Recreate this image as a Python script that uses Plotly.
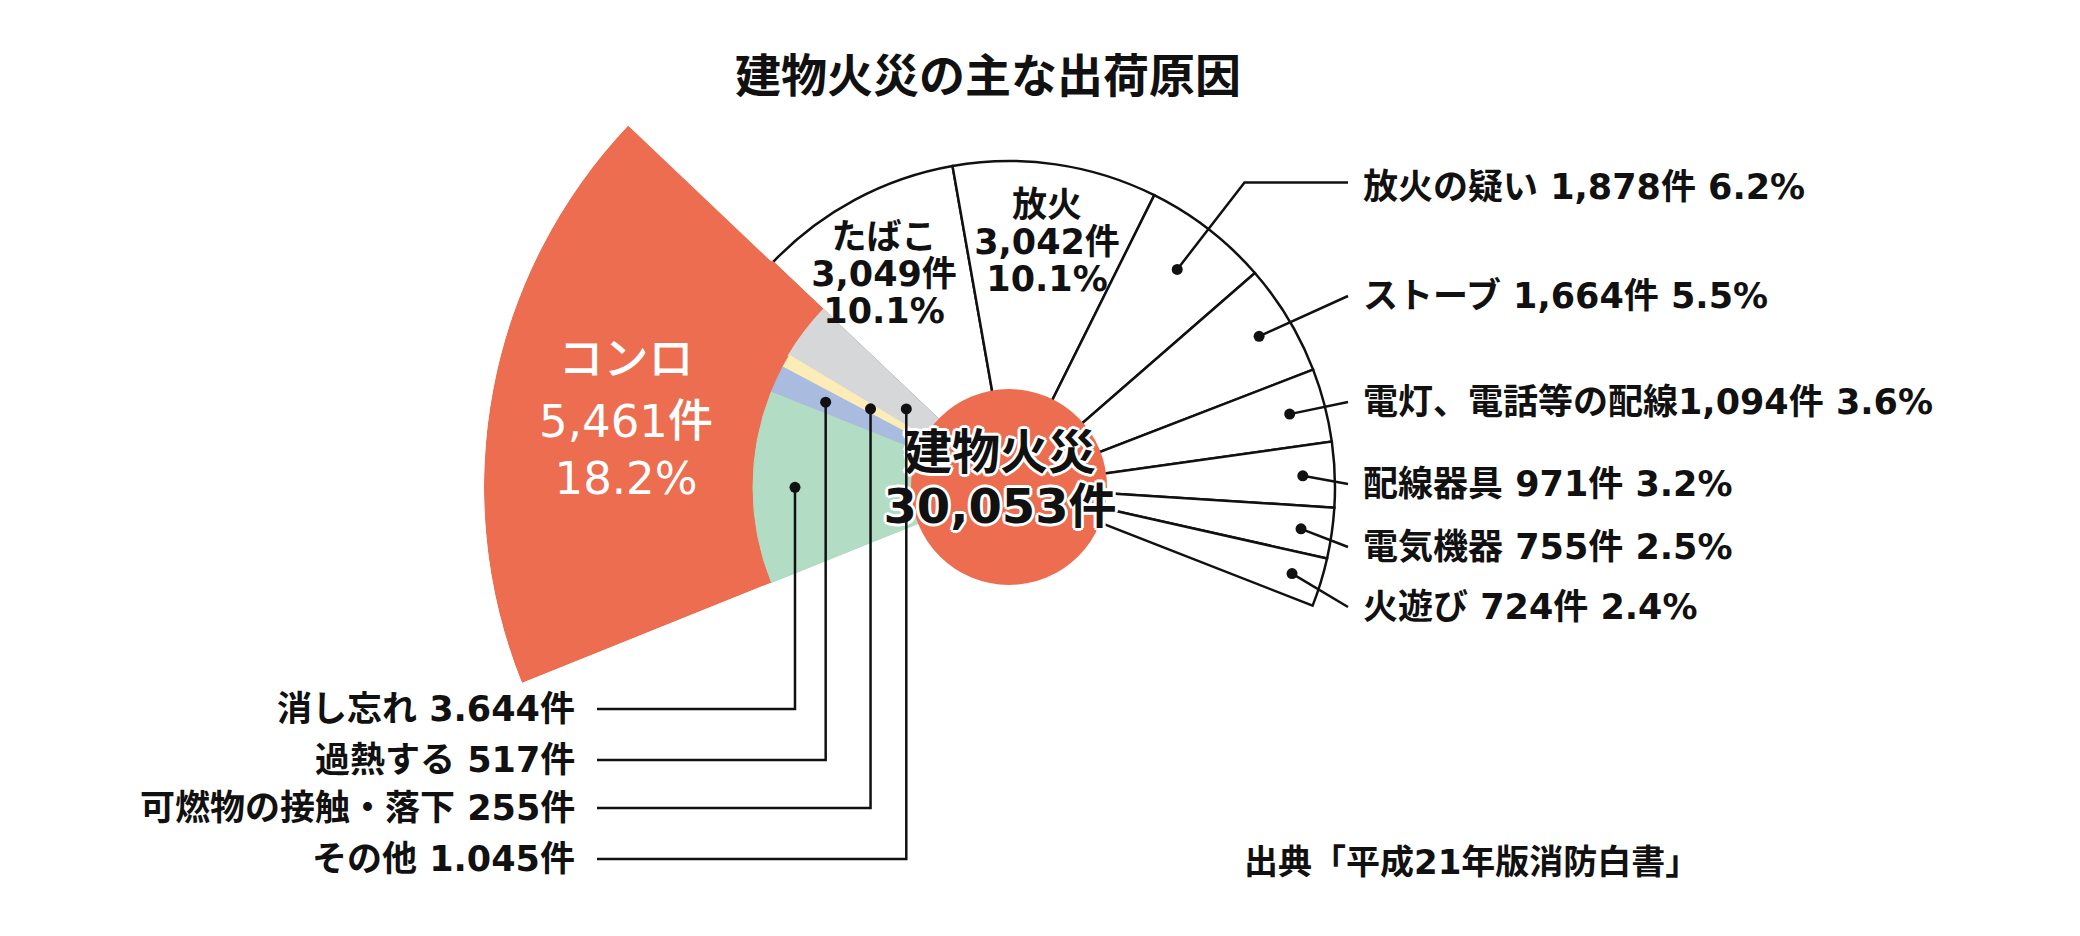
import math
import plotly.graph_objects as go

# ---------------- data ----------------
TITLE = "建物火災の主な出荷原因"
SOURCE = "出典「平成21年版消防白書」"
TOTAL_NAME = "建物火災"
TOTAL_COUNT = 30053

MAIN_NAMES = ["コンロ", "たばこ", "放火", "放火の疑い", "ストーブ",
              "電灯、電話等の配線", "配線器具", "電気機器", "火遊び"]
MAIN_COUNTS = [5461, 3049, 3042, 1878, 1664, 1094, 971, 755, 724]
MAIN_PCTS = ["18.2", "10.1", "10.1", "6.2", "5.5", "3.6", "3.2", "2.5", "2.4"]

KONRO_NAMES = ["その他", "可燃物の接触・落下", "過熱する", "消し忘れ"]
KONRO_COUNTS = [1045, 255, 517, 3644]
KONRO_COUNT_TEXT = ["1.045", "255", "517", "3.644"]

# ---------------- geometry / style ----------------
W, H = 2080, 936
CX, CY = 1009.0, 487.0          # centre of the chart in px (from top-left)
R_KONRO = 525.0
R_RING = 326.0
R_SUB = 256.0
R_HUB = 98.0
R2_RANGE = 448.0
START = 136.5                   # angle of the コンロ / たばこ boundary
DEG = 360.0 / TOTAL_COUNT

CORAL = "#EC6D4F"
SUB_COLORS = ["#D6D7D9", "#FCECB8", "#A9BCE0", "#B3DCC5"]
INK = "#111111"
CJK = "Noto Sans CJK JP"
MIX = "DejaVu Sans, Noto Sans CJK JP"

RIGHT_LABEL_Y = [187, 296, 402, 484, 547, 607]
RIGHT_DOT_R = [275, 292, 290, 294, 295, 296]
RIGHT_ELBOW_R = [385, None, None, None, None, None]
RIGHT_SEP = [" ", " ", "", " ", " ", " "]
RIGHT_LINE_END_X = 1348
RIGHT_TEXT_X = 1361

LEFT_LABEL_Y = [859, 808, 760, 709]
LEFT_DOT_R = [129, 159, 202, 214]
LEFT_LINE_END_X = 597
LEFT_TEXT_X = 577

INNER_POS = {0: (626, [358, 420, 477]), 1: (884, [236, 273, 310]), 2: (1047, [204, 241, 278])}
CENTER_POS = (1000, [451, 505])

LABEL_FS = 35
INNER_FS = 35
LABEL_W = 700


def to_px(r, th):
    t = math.radians(th)
    return CX + r * math.cos(t), CY - r * math.sin(t)


def to_polar(x, y):
    dx, dy = x - CX, CY - y
    return math.hypot(dx, dy), math.degrees(math.atan2(dy, dx))


def paper(x, y):
    return x / W, 1 - y / H


def sector_bbox(s0, s1):
    arc = s1 - s0
    a0 = s0 % 360
    a1 = a0 + arc
    c = lambda a: math.cos(math.radians(a))
    s = lambda a: math.sin(math.radians(a))
    ax0, ay0, ax1, ay1 = c(a0), s(a0), c(a1), s(a1)
    if (a0 <= 90 and a1 >= 90) or (a0 > 90 and a1 >= 450):
        y1 = 1
    elif ay0 <= 0 and ay1 <= 0:
        y1 = 0
    else:
        y1 = max(ay0, ay1)
    if (a0 <= 180 and a1 >= 180) or (a0 > 180 and a1 >= 540):
        x0 = -1
    elif ax0 >= 0 and ax1 >= 0:
        x0 = 0
    else:
        x0 = min(ax0, ax1)
    if (a0 <= 270 and a1 >= 270) or (a0 > 270 and a1 >= 630):
        y0 = -1
    elif ay0 >= 0 and ay1 >= 0:
        y0 = 0
    else:
        y0 = min(ay0, ay1)
    if a1 >= 360:
        x1 = 1
    elif ax0 <= 0 and ax1 <= 0:
        x1 = 0
    else:
        x1 = max(ax0, ax1)
    return x0, y0, x1, y1


def domain_for(R, sector):
    x0, y0, x1, y1 = sector_bbox(*sector)
    left, right = CX + R * x0, CX + R * x1
    top, bottom = CY - R * y1, CY - R * y0
    clamp = lambda v: min(1.0, max(0.0, v))
    return dict(x=[clamp(left / W), clamp(right / W)],
                y=[clamp(1 - bottom / H), clamp(1 - top / H)])


# ---------------- angles from the data ----------------
konro_w = MAIN_COUNTS[0] * DEG
konro_th = START + konro_w / 2

sub_w = [c * DEG for c in KONRO_COUNTS]
sub_th = []
acc = START
for w in sub_w:
    sub_th.append(acc + w / 2)
    acc += w

ring_w = [c * DEG for c in MAIN_COUNTS[1:]]
ring_th = []
acc = START
for w in ring_w:
    ring_th.append(acc - w / 2)
    acc -= w

fig = go.Figure()

# ---- polar 1 : large コンロ wedge ----
fig.add_trace(go.Barpolar(
    r=[R_KONRO], theta=[konro_th], width=[konro_w], subplot="polar",
    marker=dict(color=CORAL, line=dict(width=0)), hoverinfo="skip"))

# ---- polar 2 : ring of white sectors, konro breakdown, hub ----
fig.add_trace(go.Barpolar(
    r=[R_RING] * len(ring_th), theta=ring_th, width=ring_w, subplot="polar2",
    marker=dict(color="white", line=dict(color=INK, width=2.5)), hoverinfo="skip"))
# thin coral strip hiding the outline on the コンロ / たばこ edge
fig.add_trace(go.Barpolar(
    r=[R_RING - R_SUB + 6], base=[R_SUB - 6], theta=[START + 0.6], width=[1.2], subplot="polar2",
    marker=dict(color=CORAL, line=dict(color=CORAL, width=3)), hoverinfo="skip"))
fig.add_trace(go.Barpolar(
    r=[R_SUB] * len(sub_th), theta=sub_th, width=sub_w, subplot="polar2",
    marker=dict(color=SUB_COLORS, line=dict(color=SUB_COLORS, width=[3, 1, 1, 1])),
    hoverinfo="skip"))

# hub disc
fig.add_trace(go.Scatterpolar(
    r=[0], theta=[0], mode="markers", subplot="polar2", cliponaxis=False,
    marker=dict(size=2 * R_HUB, color=CORAL, line=dict(width=0)), hoverinfo="skip"))

# leader lines (as shapes above the plot) and dots
shapes = []
dot_r, dot_t = [], []
for i in range(6):
    th = ring_th[i + 2]
    pts = [to_px(RIGHT_DOT_R[i], th)]
    if RIGHT_ELBOW_R[i]:
        ex, ey = to_px(RIGHT_ELBOW_R[i], th)
        pts += [(ex, ey), (RIGHT_LINE_END_X, ey)]
    else:
        pts.append((RIGHT_LINE_END_X, RIGHT_LABEL_Y[i]))
    dot_r.append(RIGHT_DOT_R[i]); dot_t.append(th)
    path = "M " + " L ".join("{:.5f},{:.5f}".format(*paper(x, y)) for x, y in pts)
    shapes.append(dict(type="path", path=path, xref="paper", yref="paper", layer="above",
                       line=dict(color=INK, width=2.5)))

for j in range(4):
    th = sub_th[j]
    dx, dy = to_px(LEFT_DOT_R[j], th)
    pts = [(dx, dy), (dx, LEFT_LABEL_Y[j]), (LEFT_LINE_END_X, LEFT_LABEL_Y[j])]
    dot_r.append(LEFT_DOT_R[j]); dot_t.append(th)
    path = "M " + " L ".join("{:.5f},{:.5f}".format(*paper(x, y)) for x, y in pts)
    shapes.append(dict(type="path", path=path, xref="paper", yref="paper", layer="above",
                       line=dict(color=INK, width=2.5)))

fig.add_trace(go.Scatterpolar(
    r=dot_r, theta=dot_t, mode="markers", subplot="polar2", cliponaxis=False,
    marker=dict(size=11, color=INK, line=dict(width=0)), hoverinfo="skip"))

# コンロ label (white, inside the big wedge)
kx, kys = INNER_POS[0]
k_txt = [MAIN_NAMES[0], f"{MAIN_COUNTS[0]:,}件", f"{MAIN_PCTS[0]}%"]
k_fs = 45
k_pts = [to_polar(kx, y + 0.12 * k_fs) for y in kys]
fig.add_trace(go.Scatterpolar(
    r=[p[0] for p in k_pts], theta=[p[1] for p in k_pts], text=k_txt,
    mode="text", textposition="middle center", subplot="polar2", cliponaxis=False,
    textfont=dict(family=MIX, size=k_fs, color="white", weight=500), hoverinfo="skip"))

# labels inside たばこ / 放火
in_r, in_t, in_txt = [], [], []
for i in (1, 2):
    x, ys = INNER_POS[i]
    lines = [MAIN_NAMES[i], f"{MAIN_COUNTS[i]:,}件", f"{MAIN_PCTS[i]}%"]
    for y, s in zip(ys, lines):
        p = to_polar(x, y + 0.12 * INNER_FS)
        in_r.append(p[0]); in_t.append(p[1]); in_txt.append(s)
fig.add_trace(go.Scatterpolar(
    r=in_r, theta=in_t, text=in_txt, mode="text", textposition="middle center",
    subplot="polar2", cliponaxis=False,
    textfont=dict(family=MIX, size=INNER_FS, color=INK, weight=LABEL_W), hoverinfo="skip"))

# centre label
c_fs = 48
cx_, cys = CENTER_POS
c_pts = [to_polar(cx_, y + 0.12 * c_fs) for y in cys]
shadow = ", ".join(f"{a}px {b}px 0 #fff" for a, b in
                   [(3, 0), (-3, 0), (0, 3), (0, -3), (2, 2), (-2, 2), (2, -2), (-2, -2)])
fig.add_trace(go.Scatterpolar(
    r=[p[0] for p in c_pts], theta=[p[1] for p in c_pts],
    text=[TOTAL_NAME, f"{TOTAL_COUNT:,}件"], mode="text", textposition="middle center",
    subplot="polar2", cliponaxis=False,
    textfont=dict(family=MIX, size=c_fs, color=INK, weight=700, shadow=shadow),
    hoverinfo="skip"))

# outside labels as annotations
annotations = []
for i in range(6):
    k = i + 3
    x, y = paper(RIGHT_TEXT_X, RIGHT_LABEL_Y[i])
    annotations.append(dict(
        text=f"{MAIN_NAMES[k]}{RIGHT_SEP[i]}{MAIN_COUNTS[k]:,}件 {MAIN_PCTS[k]}%",
        x=x, y=y, xref="paper", yref="paper", xanchor="left", yanchor="middle",
        showarrow=False, font=dict(family=MIX, size=LABEL_FS, color=INK, weight=LABEL_W)))
for j in range(4):
    x, y = paper(LEFT_TEXT_X, LEFT_LABEL_Y[j])
    annotations.append(dict(
        text=f"{KONRO_NAMES[j]} {KONRO_COUNT_TEXT[j]}件",
        x=x, y=y, xref="paper", yref="paper", xanchor="right", yanchor="middle",
        showarrow=False, font=dict(family=MIX, size=LABEL_FS, color=INK, weight=LABEL_W)))
tx, ty = paper(988, 72)
annotations.append(dict(text=TITLE, x=tx, y=ty, xref="paper", yref="paper",
                        xanchor="center", yanchor="middle", showarrow=False,
                        font=dict(family=CJK, size=46, color=INK, weight=700)))
sx, sy = paper(1242, 862)
annotations.append(dict(text=SOURCE, x=sx, y=sy, xref="paper", yref="paper",
                        xanchor="left", yanchor="middle", showarrow=False,
                        font=dict(family=MIX, size=34, color=INK, weight=700)))

axis_r = lambda R: dict(range=[0, R], visible=False, showgrid=False, showline=False,
                        showticklabels=False, ticks="")
axis_a = dict(visible=False, showgrid=False, showline=False, showticklabels=False, ticks="",
              rotation=0, direction="counterclockwise")

fig.update_layout(
    width=W, height=H, autosize=False,
    margin=dict(l=0, r=0, t=0, b=0),
    paper_bgcolor="white", plot_bgcolor="white", showlegend=False,
    polar=dict(domain=domain_for(R_KONRO, [START, START + konro_w]),
               sector=[START, START + konro_w], bgcolor="rgba(0,0,0,0)",
               barmode="overlay", bargap=0, hole=0,
               radialaxis=axis_r(R_KONRO), angularaxis=axis_a),
    polar2=dict(domain=domain_for(R2_RANGE, [0, 360]), sector=[0, 360],
                bgcolor="rgba(0,0,0,0)", barmode="overlay", bargap=0, hole=0,
                radialaxis=axis_r(R2_RANGE), angularaxis=axis_a),
    shapes=shapes,
    annotations=annotations,
)

# the page's default 8px body margin would shift the whole picture; remove it
fig.write_html("out.html", config={"displayModeBar": False},
               post_script="document.body.style.margin='0';")
